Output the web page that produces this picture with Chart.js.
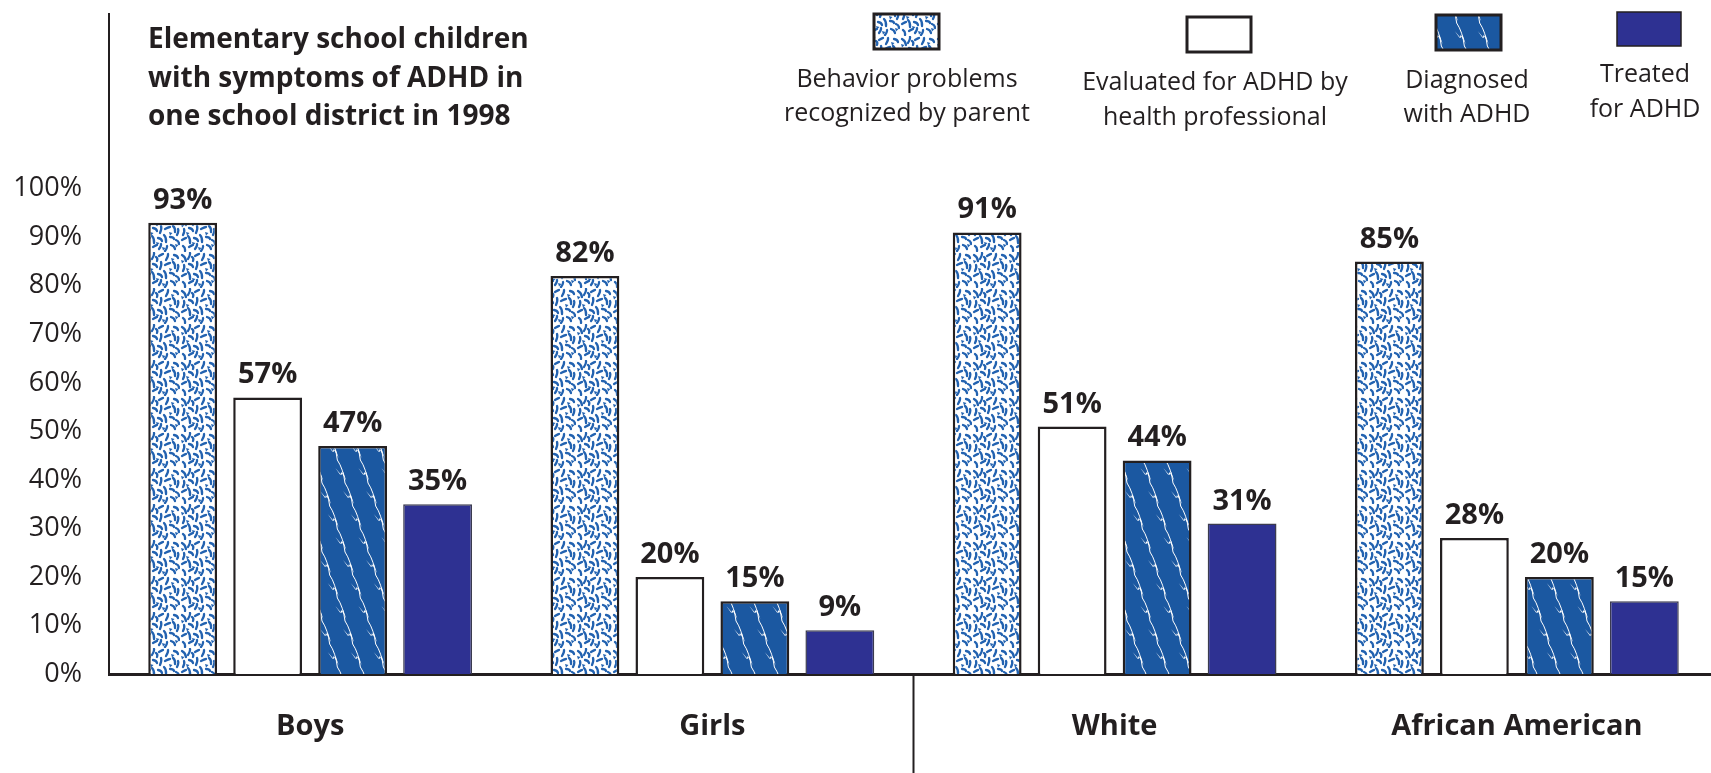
<!DOCTYPE html>
<html><head><meta charset="utf-8">
<script src="https://cdn.jsdelivr.net/npm/chart.js@4/dist/chart.umd.min.js"></script>
<style>
html,body{margin:0;padding:0;background:#fff;overflow:hidden;width:1711px;height:773px}
#wrap{position:absolute;left:0;top:0;width:1718px;height:773px}
</style>
</head><body><div id="wrap"><canvas id="c" width="1718" height="773"></canvas></div>
<script>
// ---- data ----
const categories = ['Boys', 'Girls', 'White', 'African American'];
const seriesLabels = [
  ['Behavior problems', 'recognized by parent'],
  ['Evaluated for ADHD by', 'health professional'],
  ['Diagnosed', 'with ADHD'],
  ['Treated', 'for ADHD']
];
const behaviorProblems = [93, 82, 91, 85];
const evaluatedByProfessional = [57, 20, 51, 28];
const diagnosedADHD = [47, 15, 44, 20];
const treatedADHD = [35, 9, 31, 15];
const yTickValues = [0, 10, 20, 30, 40, 50, 60, 70, 80, 90, 100];
const titleLines = ['Elementary school children', 'with symptoms of ADHD in', 'one school district in 1998'];

// ---- styles ----
const INK = '#231f20';
const FONT = '"Open Sans", Lato, sans-serif';
const speckBlue = '#2262b0';
const diagBlue = '#1b58a1';
const navy = '#2e3192';

function makeSpeckPattern() {
  const t = document.createElement('canvas');
  t.width = 36; t.height = 36;
  const g = t.getContext('2d');
  g.fillStyle = '#ffffff'; g.fillRect(0, 0, 36, 36);
  g.strokeStyle = speckBlue; g.lineWidth = 2.3; g.lineCap = 'round';
  const strokes = [[2,3,6,9],[10,1,8,7],[15,4,19,2],[24,2,22,8],[30,3,34,6],[4,13,3,19],[9,12,13,15],
    [17,10,16,17],[21,13,26,11],[29,10,31,16],[34,13,33,19],[2,24,6,22],[8,20,10,27],[14,22,18,25],
    [20,19,22,26],[26,21,30,23],[32,24,35,28],[3,30,5,35],[9,31,13,29],[15,33,17,28],[23,30,21,35],
    [27,29,31,33],[12,5,13,9]];
  strokes.forEach(s => {
    g.beginPath(); g.moveTo(s[0], s[1]);
    g.quadraticCurveTo((s[0]+s[2])/2 + 1.5, (s[1]+s[3])/2 - 1, s[2], s[3]); g.stroke();
  });
  g.fillStyle = speckBlue;
  [[6,16],[25,16],[18,31],[31,28],[12,26],[27,6],[1,8]].forEach(p => {
    g.beginPath(); g.moveTo(p[0], p[1]); g.lineTo(p[0]+3.5, p[1]+1); g.lineTo(p[0]+1, p[1]+3.5); g.fill();
  });
  return g.createPattern(t, 'repeat');
}

function makeDiagPattern() {
  const W = 23, H = 69;
  const t = document.createElement('canvas');
  t.width = W; t.height = H;
  const g = t.getContext('2d');
  g.fillStyle = diagBlue; g.fillRect(0, 0, W, H);
  g.strokeStyle = '#ffffff'; g.fillStyle = '#ffffff'; g.lineWidth = 1;
  for (const off of [-W, 0, W]) {
    for (let k = 0; k < 3; k++) {
      const x0 = off + k * W / 3, y0 = k * 23, x1 = off + (k + 1) * W / 3, y1 = (k + 1) * 23;
      g.beginPath(); g.moveTo(x0, y0); g.quadraticCurveTo(x0 + 6, y0 + 9, x1, y1); g.stroke();
      // little lightning arrow
      const ax = x0 + 1, ay = y0 + 8;
      g.beginPath();
      g.moveTo(ax - 3, ay); g.lineTo(ax + 2, ay + 7); g.lineTo(ax + 3, ay + 4);
      g.lineTo(ax + 8, ay + 13); g.lineTo(ax + 5, ay + 4); g.lineTo(ax + 3, ay + 7); g.closePath(); g.fill();
    }
  }
  return g.createPattern(t, 'repeat');
}

const fills = [makeSpeckPattern(), '#ffffff', makeDiagPattern(), navy];
const seriesData = [behaviorProblems, evaluatedByProfessional, diagnosedADHD, treatedADHD];

const valueLabels = {
  id: 'valueLabels',
  afterDatasetsDraw(chart) {
    const ctx = chart.ctx;
    ctx.save();
    ctx.fillStyle = INK; ctx.font = 'bold 29px ' + FONT;
    ctx.textAlign = 'center'; ctx.textBaseline = 'alphabetic';
    chart.data.datasets.forEach((ds, i) => {
      chart.getDatasetMeta(i).data.forEach((bar, j) => {
        ctx.fillText(ds.data[j] + '%', bar.x, bar.y - 14);
      });
    });
    ctx.restore();
  }
};

const decorations = {
  id: 'decorations',
  afterDraw(chart) {
    const ctx = chart.ctx;
    const xs = chart.scales.x, area = chart.chartArea;
    ctx.save();
    // divider between sex and race groups
    const xd = (xs.getPixelForValue(1) + xs.getPixelForValue(2)) / 2;
    ctx.strokeStyle = INK; ctx.lineWidth = 2;
    ctx.beginPath(); ctx.moveTo(xd, area.bottom); ctx.lineTo(xd, chart.height); ctx.stroke();
    // title
    ctx.fillStyle = INK; ctx.font = 'bold 28px ' + FONT;
    ctx.textAlign = 'left'; ctx.textBaseline = 'alphabetic';
    titleLines.forEach((t, i) => ctx.fillText(t, 148, 48 + i * 38.5));
    // legend
    const items = [
      {x: 874, y: 14, w: 65, h: 35, cx: 907, b: [87, 121]},
      {x: 1187, y: 17, w: 64, h: 35, cx: 1215, b: [90, 125]},
      {x: 1436, y: 15, w: 65, h: 35, cx: 1467, b: [88, 122]},
      {x: 1617, y: 12, w: 64, h: 34, cx: 1645, b: [82, 117]}
    ];
    ctx.font = '25px ' + FONT; ctx.textAlign = 'center';
    items.forEach((it, i) => {
      ctx.fillStyle = fills[i];
      ctx.fillRect(it.x, it.y, it.w, it.h);
      ctx.strokeStyle = INK; ctx.lineWidth = i === 3 ? 1.5 : 3;
      ctx.strokeRect(it.x, it.y, it.w, it.h);
      ctx.fillStyle = INK;
      seriesLabels[i].forEach((line, k) => ctx.fillText(line, it.cx, it.b[k]));
    });
    ctx.restore();
  }
};

new Chart(document.getElementById('c'), {
  type: 'bar',
  data: {
    labels: categories,
    datasets: seriesData.map((d, i) => ({
      label: seriesLabels[i].join(' '),
      data: d,
      backgroundColor: fills[i],
      borderColor: i === 3 ? '#3b3b4f' : INK,
      borderWidth: i === 3 ? 1.5 : 2.5,
      categoryPercentage: 0.845,
      barPercentage: 0.81
    }))
  },
  options: {
    responsive: false,
    devicePixelRatio: 1,
    animation: false,
    layout: {padding: {top: 14, left: 0, right: 0, bottom: 0}},
    plugins: {legend: {display: false}, tooltip: {enabled: false}, title: {display: false}},
    scales: {
      x: {
        grid: {display: false, drawTicks: false},
        border: {display: true, color: INK, width: 3},
        ticks: {color: INK, font: {family: FONT, size: 29, weight: 'bold'}, padding: 35, maxRotation: 0},
        afterFit(s) { s.height = 99; s.paddingLeft = 0; s.paddingRight = 0; }
      },
      y: {
        min: 0, max: 136,
        afterBuildTicks(s) { s.ticks = yTickValues.map(v => ({value: v})); },
        grid: {display: false, drawTicks: false},
        border: {display: true, color: INK, width: 2},
        ticks: {color: INK, font: {family: FONT, size: 27}, padding: 27, callback: v => v + '%'},
        afterFit(s) { s.width = 109; s.paddingTop = 0; s.paddingBottom = 0; }
      }
    }
  },
  plugins: [valueLabels, decorations]
});
</script>
</body></html>
